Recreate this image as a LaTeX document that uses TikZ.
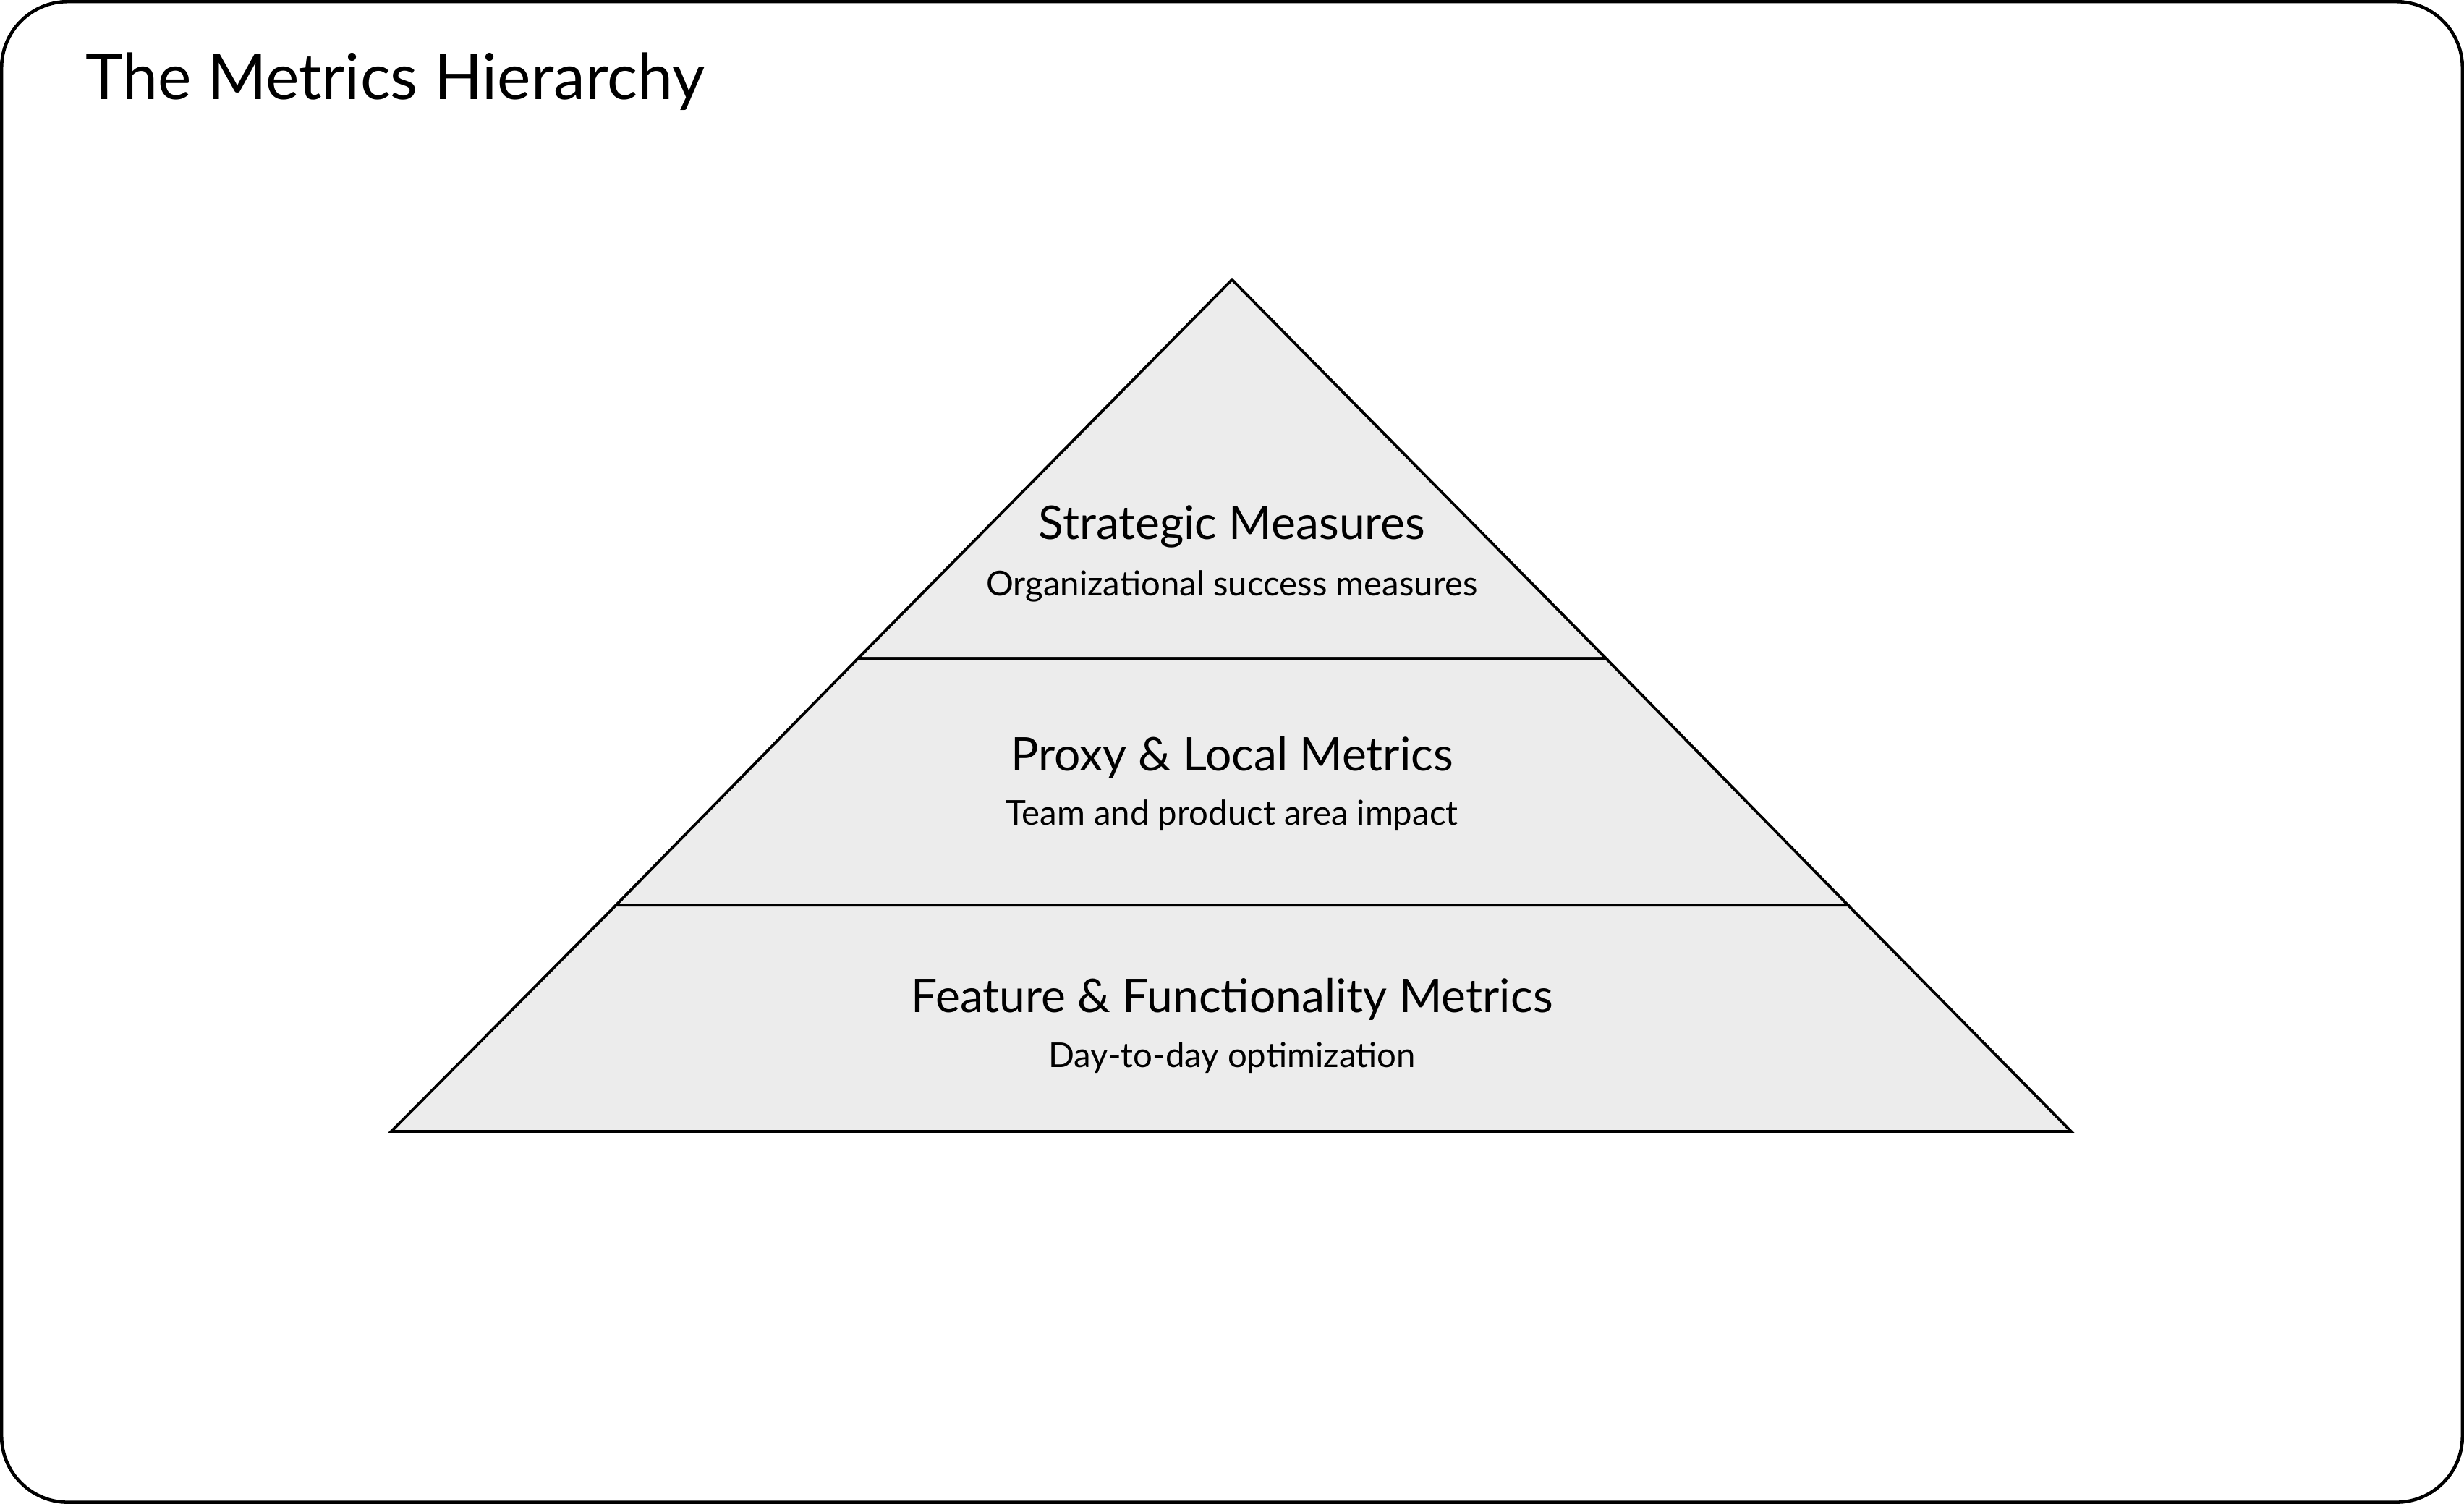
\documentclass[tikz,border=0pt]{standalone}
\usepackage{fontspec}
\setmainfont{Lato}
\definecolor{tierfill}{HTML}{ECECEC}
\begin{document}
\begin{tikzpicture}[x=0.1mm,y=-0.1mm,
  tier/.style={fill=tierfill,draw=black,line width=0.5pt},
  head/.style={font=\fontsize{8.4}{10}\selectfont},
  sub/.style={font=\fontsize{6.2}{8}\selectfont}]
\useasboundingbox (0,0) rectangle (1568,957);
\draw[rounded corners=12,line width=0.6pt,fill=white] (1,1) rectangle (1567,956);
\node[anchor=west,font=\fontsize{11.5}{14}\selectfont] (title) at (42,52) {The Metrics Hierarchy};
	% tiers, top to bottom
	\draw[tier] (784,178) -- (1022,419) -- (546,419) -- cycle;
	\draw[tier] (546,419) -- (1022,419) -- (1176,576) -- (392,576) -- cycle;
	\draw[tier] (392,576) -- (1176,576) -- (1318,720) -- (249,720) -- cycle;
\node[head] (strat) at (784,335) {Strategic Measures};
\node[sub] (stratsub) at (784,373) {Organizational success measures};
\node[head] (proxy) at (784,482) {Proxy \& Local Metrics};
\node[sub] (proxysub) at (784,519) {Team and product area impact};
\node[head] (feat) at (784,636) {Feature \& Functionality Metrics};
\node[sub] (featsub) at (784,673) {Day-to-day optimization};
\end{tikzpicture}
\end{document}
